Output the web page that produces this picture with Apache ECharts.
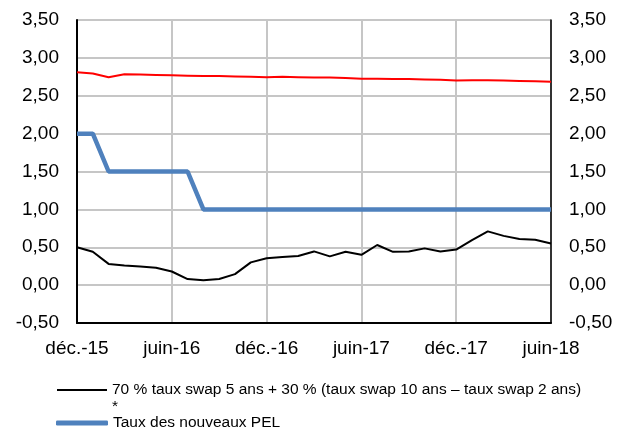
<!DOCTYPE html>
<html lang="fr">
<head>
    <meta charset="UTF-8">
    <title>taux PEL</title>
    <style>
        html, body {margin: 0; padding: 0; background: #fff;}
        #main {width: 627px; height: 432px;}
    </style>
</head>
<body>
<div id="main"></div>
<script src="https://cdn.jsdelivr.net/npm/echarts@6/dist/echarts.min.js"></script>
<script type="text/javascript">
// mois de déc.-15 à juin-18
var months = ['déc.-15',
    'janv.-16', 'févr.-16', 'mars-16', 'avr.-16', 'mai-16', 'juin-16', 'juil.-16', 'août-16', 'sept.-16', 'oct.-16', 'nov.-16', 'déc.-16',
    'janv.-17', 'févr.-17', 'mars-17', 'avr.-17', 'mai-17', 'juin-17', 'juil.-17', 'août-17', 'sept.-17', 'oct.-17', 'nov.-17', 'déc.-17',
    'janv.-18', 'févr.-18', 'mars-18', 'avr.-18', 'mai-18', 'juin-18'];

var swapName = '70 % taux swap 5 ans + 30 % (taux swap 10 ans – taux swap 2 ans)';
var pelName = 'Taux des nouveaux PEL';
var otherName = 'Taux réglementaire';

var swapValues = [0.50, 0.44, 0.28, 0.26, 0.245, 0.23, 0.18, 0.08, 0.065, 0.08, 0.145, 0.30, 0.355,
    0.37, 0.385, 0.445, 0.38, 0.44, 0.40, 0.53, 0.44, 0.445, 0.485, 0.445, 0.47,
    0.595, 0.71, 0.65, 0.61, 0.60, 0.55];

var pelValues = [2.0, 2.0, 1.5, 1.5, 1.5, 1.5, 1.5, 1.5, 1.0, 1.0, 1.0, 1.0, 1.0,
    1.0, 1.0, 1.0, 1.0, 1.0, 1.0, 1.0, 1.0, 1.0, 1.0, 1.0, 1.0,
    1.0, 1.0, 1.0, 1.0, 1.0, 1.0];

var otherValues = [2.81, 2.795, 2.745, 2.785, 2.78, 2.775, 2.77, 2.765, 2.76, 2.76, 2.755, 2.75, 2.745,
    2.75, 2.745, 2.74, 2.74, 2.735, 2.725, 2.725, 2.72, 2.72, 2.715, 2.71, 2.70,
    2.705, 2.705, 2.70, 2.695, 2.69, 2.685];

var fontFam = '"Liberation Sans", Arial, sans-serif';

function fmt(v) {
    return v.toFixed(2).replace('.', ',');
}

function valueAxis(pos) {
    return {
        type: 'value',
        position: pos,
        min: -0.5,
        max: 3.5,
        interval: 0.5,
        axisLine: {show: true, lineStyle: {color: '#000', width: pos === 'left' ? 2 : 1.5}},
        axisTick: {show: false},
        axisLabel: {
            color: '#000', fontSize: 19, fontFamily: fontFam, margin: 18,
            formatter: fmt
        },
        splitLine: {show: pos === 'left', lineStyle: {color: '#c6c6c6', width: 2}}
    };
}

var myChart = echarts.init(document.getElementById('main'));
myChart.setOption({
    animation: false,
    grid: {
        left: 77, right: 76, top: 20, bottom: 109,
        show: true, borderColor: '#505050', borderWidth: 1
    },
    xAxis: {
        type: 'category',
        data: months,
        boundaryGap: false,
        axisLine: {onZero: false, lineStyle: {color: '#000', width: 2}},
        axisTick: {show: false},
        axisLabel: {
            interval: 5, color: '#000', fontSize: 19, fontFamily: fontFam, margin: 16
        },
        splitLine: {show: true, interval: 5, lineStyle: {color: '#c6c6c6', width: 2}}
    },
    yAxis: [valueAxis('left'), valueAxis('right')],
    legend: [
        {
            left: 57, top: 382, padding: 0,
            icon: 'rect', itemWidth: 50, itemHeight: 2,
            textStyle: {color: '#000', fontSize: 15.5, fontFamily: fontFam},
            data: [swapName]
        },
        {
            left: 56, top: 415, padding: 0,
            icon: 'roundRect', itemWidth: 52, itemHeight: 5,
            textStyle: {color: '#000', fontSize: 15.5, fontFamily: fontFam},
            data: [pelName]
        }
    ],
    graphic: [{
        type: 'text', left: 112, top: 399,
        style: {text: '*', fill: '#000', fontSize: 15.5, fontFamily: fontFam}
    }],
    series: [
        {
            name: swapName, type: 'line', data: swapValues,
            symbol: 'none', z: 3,
            lineStyle: {color: '#000', width: 2}, itemStyle: {color: '#000'}
        },
        {
            name: pelName, type: 'line', data: pelValues,
            symbol: 'none', z: 2,
            lineStyle: {color: '#4f81bd', width: 4.5}, itemStyle: {color: '#4f81bd'}
        },
        {
            name: otherName, type: 'line', data: otherValues,
            symbol: 'none', z: 2,
            lineStyle: {color: '#ff0000', width: 2}, itemStyle: {color: '#ff0000'}
        }
    ]
});
</script>
</body>
</html>
